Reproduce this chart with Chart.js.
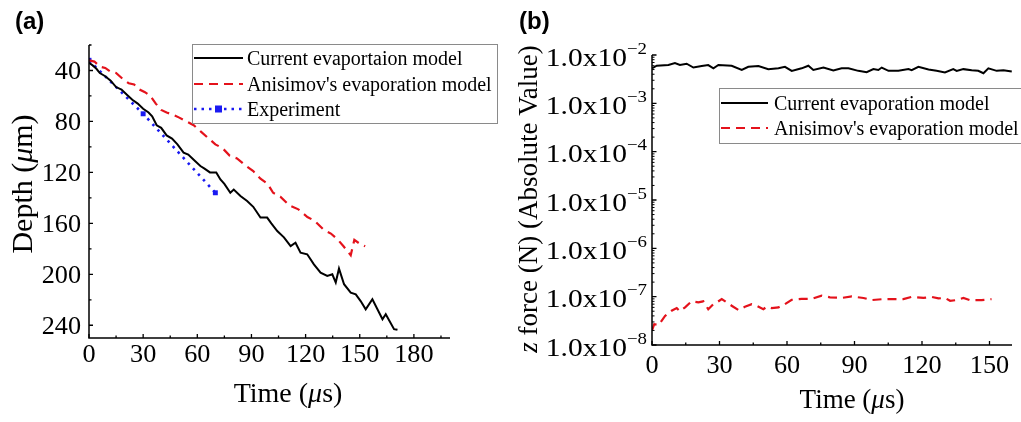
<!DOCTYPE html>
<html>
<head>
<meta charset="utf-8">
<script src="https://cdn.jsdelivr.net/npm/chart.js@4.4.1/dist/chart.umd.min.js"></script>
<style>
  html, body { margin: 0; padding: 0; background: #fff; }
  #wrap { position: relative; width: 1021px; height: 422px; overflow: hidden; }
  #wrap canvas { position: absolute; top: 0; }
</style>
</head>
<body>
<div id="wrap">
  <canvas id="depthChart" width="510" height="422" style="left:0"></canvas>
  <canvas id="forceChart" width="511" height="422" style="left:510px"></canvas>
</div>
<script>
// ---- (a) crater depth versus time ----
const depthCurTime = [0, 2, 4, 6, 9, 12, 15, 18, 21, 24, 27, 30, 33, 35, 37.5, 40, 43, 46, 49, 52.4, 55, 58, 61.7, 64, 67, 70.5, 72.8, 75, 78.3, 80.2, 83.9, 87.6, 91, 95, 98.7, 101, 104.3, 108, 111.7, 114.4, 117.2, 120.9, 124.6, 128.3, 132, 134.8, 136.7, 138.5, 141.3, 145, 147.8, 150.5, 153.3, 157, 162.6, 164.4, 169, 170.9];
const depthCur = [34, 36, 38.5, 42, 44.5, 48, 53, 55, 59, 63, 66, 70, 73, 76, 83, 85, 91, 93.5, 98, 104.5, 106, 110, 115, 117, 120, 120, 125.5, 129, 136, 133.5, 138.6, 142.5, 147, 155.5, 155.5, 160, 166, 171, 177.8, 175.2, 183, 184.3, 192.2, 198.7, 201.3, 200, 206.5, 195.5, 207.8, 214.4, 215.7, 221, 227.5, 219.6, 235.3, 231.4, 243.1, 243.6];
const depthAnisTime = [0, 3, 6, 9, 12, 15, 19, 22, 25, 28, 31, 34, 37, 40, 43, 47, 50, 54, 58, 62, 66, 70, 74, 78, 82, 87, 91, 95, 99, 102, 106, 111, 116, 121, 125, 130, 134, 138, 141, 145, 147, 150, 153];
const depthAnis = [32, 33, 37, 38, 41, 42, 47, 50, 51, 55, 57, 60, 66, 71, 73, 75, 77, 80, 83, 88, 93, 98, 101, 107, 109, 115, 119, 125, 129, 136, 139, 146, 149, 155, 158, 165, 168, 173, 178, 185, 173, 176, 178];
const expTime = [0, 30, 70];
const expDepth = [32, 74, 136];
const depthXTicks = [0, 30, 60, 90, 120, 150, 180];
const depthXMinor = [15, 45, 75, 105, 135, 165, 195];
const depthYTicks = [40, 80, 120, 160, 200, 240];
const depthYMinor = [20, 60, 100, 140, 180, 220];
const depthLegend = ['Current evaportaion model', "Anisimov's evaporation model", 'Experiment'];

// ---- (b) z force versus time ----
const forceCurTime = [0, 2.1, 7.3, 10.2, 12.4, 15.4, 18.4, 22.1, 25, 27.3, 29.5, 35.4, 39.9, 42.8, 47.3, 51.7, 56.2, 59.1, 62.1, 66.5, 69.5, 71.7, 76.2, 80.6, 84.3, 87.3, 91.7, 95.4, 98.4, 100.6, 102.1, 105.1, 109.5, 114, 115.4, 118.4, 122.9, 126.5, 130.2, 133.9, 135.4, 138.4, 142.1, 145, 147.3, 149.5, 153.2, 156.2, 159.9];
const forceCur = [5.3e-3, 6.0e-3, 6.2e-3, 6.8e-3, 6.2e-3, 6.6e-3, 5.5e-3, 5.9e-3, 6.2e-3, 5.3e-3, 6.2e-3, 6.0e-3, 4.9e-3, 5.7e-3, 5.9e-3, 5.1e-3, 5.3e-3, 5.7e-3, 4.7e-3, 5.3e-3, 6.0e-3, 4.9e-3, 5.5e-3, 4.8e-3, 5.3e-3, 5.3e-3, 4.7e-3, 4.4e-3, 5.1e-3, 4.9e-3, 5.5e-3, 4.7e-3, 4.7e-3, 5.1e-3, 4.85e-3, 5.7e-3, 5.0e-3, 4.7e-3, 4.35e-3, 5.1e-3, 4.7e-3, 5.1e-3, 4.85e-3, 4.7e-3, 4.2e-3, 5.3e-3, 4.7e-3, 4.85e-3, 4.55e-3];
const forceAnisTime = [0, 1, 3, 5.8, 8.7, 11, 12.4, 14.7, 17.6, 20.6, 22.8, 25, 27.3, 28.8, 31, 33.2, 35.4, 38.4, 41.3, 44.3, 46.5, 49.5, 51, 53.2, 56.2, 59.1, 62.1, 66.5, 71, 75.4, 79.1, 84.3, 88.8, 94, 97.6, 102.8, 106.5, 111.7, 115.4, 120.6, 124.3, 127.3, 130.2, 132.5, 135.4, 138.4, 141.3, 146.5, 150.9];
const forceAnis = [2.0e-8, 2.7e-8, 2.6e-8, 4.0e-8, 5.1e-8, 5.8e-8, 5.0e-8, 6.0e-8, 8.0e-8, 7.6e-8, 8.0e-8, 5.5e-8, 7.0e-8, 7.6e-8, 8.9e-8, 7.6e-8, 6.5e-8, 5.3e-8, 6.2e-8, 7.0e-8, 6.5e-8, 5.5e-8, 6.2e-8, 5.8e-8, 6.0e-8, 7.0e-8, 8.6e-8, 9.0e-8, 9.0e-8, 1.05e-7, 9.7e-8, 9.4e-8, 1.01e-7, 9.4e-8, 8.5e-8, 8.9e-8, 8.9e-8, 8.9e-8, 9.9e-8, 9.4e-8, 9.9e-8, 9.2e-8, 9.4e-8, 8.2e-8, 8.5e-8, 9.4e-8, 8.5e-8, 8.5e-8, 8.9e-8];
const forceXTicks = [0, 30, 60, 90, 120, 150];
const forceXMinor = [15, 45, 75, 105, 135];
const forceYExponents = [-2, -3, -4, -5, -6, -7, -8];
const forceLegend = ['Current evaporation model', "Anisimov's evaporation model"];

// ---- shared styling ----
const SERIF = '"Liberation Serif", "Times New Roman", serif';
const SANS = '"Liberation Sans", Arial, sans-serif';
const BLACK = '#000000';
const RED = '#e4121b';
const BLUE = '#1a1af2';

function pts(xs, ys) { return xs.map((x, i) => ({ x: x, y: ys[i] })); }

// draw a sequence of differently styled text runs as one label
function runs(ctx, parts, x, y, opt) {
  opt = opt || {};
  const sx = opt.sx || 1;
  ctx.save();
  ctx.translate(x, y);
  if (opt.rot) ctx.rotate(opt.rot);
  ctx.scale(sx, 1);
  ctx.fillStyle = '#000';
  ctx.textBaseline = 'alphabetic';
  ctx.textAlign = 'left';
  let total = 0;
  const widths = parts.map(p => { ctx.font = p[1]; const w = ctx.measureText(p[0]).width; total += w; return w; });
  let cx = opt.align === 'center' ? -total / 2 : opt.align === 'right' ? -total : 0;
  parts.forEach((p, i) => {
    ctx.font = p[1];
    ctx.fillText(p[0], cx, p[2] || 0);
    cx += widths[i];
  });
  ctx.restore();
}

function tickMarks(ctx, chart, axis, values, len) {
  const a = chart.chartArea;
  const s = chart.scales[axis];
  ctx.beginPath();
  values.forEach(v => {
    const p = s.getPixelForValue(v);
    if (axis === 'x') { ctx.moveTo(p, a.bottom); ctx.lineTo(p, a.bottom - len); }
    else { ctx.moveTo(a.left, p); ctx.lineTo(a.left + len, p); }
  });
  ctx.stroke();
}

function drawAxesFrame(ctx, chart) {
  const a = chart.chartArea;
  ctx.strokeStyle = '#000';
  ctx.lineWidth = 1.5;
  ctx.setLineDash([]);
  ctx.beginPath();
  ctx.moveTo(a.left, a.top);
  ctx.lineTo(a.left, a.bottom);
  ctx.lineTo(a.right, a.bottom);
  ctx.stroke();
}

function drawLegend(ctx, chart, box, labels, rowYs, sampleX0, sampleX1, textX, font) {
  ctx.save();
  ctx.fillStyle = '#fff';
  ctx.fillRect(box.x, box.y, box.w, box.h);
  ctx.strokeStyle = '#8a8a8a';
  ctx.lineWidth = 1;
  ctx.setLineDash([]);
  ctx.strokeRect(box.x + 0.5, box.y + 0.5, box.w, box.h);
  labels.forEach((lab, i) => {
    const ds = chart.data.datasets[i];
    const cy = rowYs[i];
    ctx.strokeStyle = ds.borderColor;
    ctx.lineWidth = ds.borderWidth;
    ctx.setLineDash(ds.borderDash || []);
    ctx.beginPath();
    ctx.moveTo(sampleX0, cy);
    ctx.lineTo(sampleX1, cy);
    ctx.stroke();
    if (ds.pointRadius > 0) {
      ctx.fillStyle = ds.pointBackgroundColor;
      const r = ds.pointRadius;
      const mx = (sampleX0 + sampleX1) / 2;
      ctx.fillRect(mx - r, cy - r, 2 * r, 2 * r);
    }
    ctx.setLineDash([]);
    runs(ctx, [[lab, font]], textX, cy + 7);
  });
  ctx.restore();
}

// ---------------- panel (a) ----------------
const depthText = {
  id: 'depthText',
  afterDatasetsDraw(chart) {
    const ctx = chart.ctx;
    const xs = chart.scales.x, ys = chart.scales.y;
    ctx.save();
    drawAxesFrame(ctx, chart);
    ctx.lineWidth = 1.3;
    tickMarks(ctx, chart, 'x', depthXTicks, 4);
    tickMarks(ctx, chart, 'x', depthXMinor, 2.5);
    tickMarks(ctx, chart, 'y', depthYTicks, 4);
    tickMarks(ctx, chart, 'y', depthYMinor, 2.5);

    const tickFont = '25px ' + SERIF;
    depthXTicks.forEach(v => runs(ctx, [[String(v), tickFont]], xs.getPixelForValue(v), 362, { align: 'center', sx: 1.05 }));
    depthYTicks.forEach(v => runs(ctx, [[String(v), tickFont]], 81, ys.getPixelForValue(v) + 8.5, { align: 'right', sx: 1.05 }));

    const tf = '28px ' + SERIF, tfi = 'italic 28px ' + SERIF;
    runs(ctx, [['Time (', tf], ['\u03bc', tfi], ['s)', tf]], 288, 402, { align: 'center' });
    const yf = '30px ' + SERIF, yfi = 'italic 30px ' + SERIF;
    runs(ctx, [['Depth (', yf], ['\u03bc', yfi], ['m)', yf]], 32, 184, { align: 'center', rot: -Math.PI / 2 });

    runs(ctx, [['(a)', 'bold 24px ' + SANS]], 15, 29);

    drawLegend(ctx, chart, { x: 192, y: 44, w: 305, h: 79 }, depthLegend, [58, 84, 109], 194, 243, 247, '20px ' + SERIF);
    ctx.restore();
  }
};

new Chart(document.getElementById('depthChart'), {
  type: 'line',
  data: {
    datasets: [
      { label: depthLegend[0], data: pts(depthCurTime, depthCur), borderColor: BLACK, borderWidth: 2, pointRadius: 0, tension: 0 },
      { label: depthLegend[1], data: pts(depthAnisTime, depthAnis), borderColor: RED, borderWidth: 2.2, borderDash: [9, 6], pointRadius: 0, tension: 0 },
      { label: depthLegend[2], data: pts(expTime, expDepth), borderColor: BLUE, borderWidth: 2.6, borderDash: [2.5, 5], pointStyle: 'rect', pointRadius: 3.5, pointBackgroundColor: BLUE, pointBorderColor: BLUE, pointBorderWidth: 0, tension: 0 }
    ]
  },
  options: {
    responsive: false,
    animation: false,
    devicePixelRatio: 1,
    layout: { padding: { left: 0, top: 45, right: 60, bottom: 0 } },
    plugins: { legend: { display: false }, tooltip: { enabled: false } },
    scales: {
      x: {
        type: 'linear', min: 0, max: 200,
        grid: { display: false }, border: { display: false },
        ticks: { display: false },
        afterBuildTicks: s => { s.ticks = depthXTicks.map(v => ({ value: v })); },
        afterFit: s => { s.height = 84; }
      },
      y: {
        type: 'linear', min: 20, max: 250, reverse: true,
        grid: { display: false }, border: { display: false },
        ticks: { display: false },
        afterBuildTicks: s => { s.ticks = depthYTicks.map(v => ({ value: v })); },
        afterFit: s => { s.width = 89; }
      }
    }
  },
  plugins: [depthText]
});

// ---------------- panel (b) ----------------
const forceMinor = [];
for (let e = -8; e < -2; e++) for (let k = 2; k <= 9; k++) forceMinor.push(k * Math.pow(10, e));

const forceText = {
  id: 'forceText',
  afterDatasetsDraw(chart) {
    const ctx = chart.ctx;
    const xs = chart.scales.x, ys = chart.scales.y;
    ctx.save();
    drawAxesFrame(ctx, chart);
    ctx.lineWidth = 1.3;
    tickMarks(ctx, chart, 'x', forceXTicks, 4);
    tickMarks(ctx, chart, 'x', forceXMinor, 2.5);
    tickMarks(ctx, chart, 'y', forceYExponents.map(e => Math.pow(10, e)), 4.5);
    ctx.lineWidth = 1;
    tickMarks(ctx, chart, 'y', forceMinor, 2.5);

    const tickFont = '25px ' + SERIF, expFont = '16px ' + SERIF;
    forceXTicks.forEach(v => runs(ctx, [[String(v), tickFont]], xs.getPixelForValue(v), 373, { align: 'center', sx: 1.05 }));
    forceYExponents.forEach(e => {
      const y = ys.getPixelForValue(Math.pow(10, e)) + 10.5;
      runs(ctx, [['1.0x10', tickFont], ['\u2212' + Math.abs(e), expFont, -12]], 137, y, { align: 'right', sx: 1.18 });
    });

    const tf = '27px ' + SERIF, tfi = 'italic 27px ' + SERIF;
    runs(ctx, [['Time (', tf], ['\u03bc', tfi], ['s)', tf]], 342, 408, { align: 'center' });
    runs(ctx, [['z', tfi], [' force (N) (Absolute Value)', tf]], 27, 199, { align: 'center', rot: -Math.PI / 2 });

    runs(ctx, [['(b)', 'bold 24px ' + SANS]], 9, 29);

    drawLegend(ctx, chart, { x: 209, y: 88, w: 310, h: 55 }, forceLegend, [103, 128], 211, 258, 264, '20px ' + SERIF);
    ctx.restore();
  }
};

new Chart(document.getElementById('forceChart'), {
  type: 'line',
  data: {
    datasets: [
      { label: forceLegend[0], data: pts(forceCurTime, forceCur), borderColor: BLACK, borderWidth: 2, pointRadius: 0, tension: 0 },
      { label: forceLegend[1], data: pts(forceAnisTime, forceAnis), borderColor: RED, borderWidth: 2.2, borderDash: [9, 6], pointRadius: 0, tension: 0 }
    ]
  },
  options: {
    responsive: false,
    animation: false,
    devicePixelRatio: 1,
    layout: { padding: { left: 0, top: 55, right: 9, bottom: 0 } },
    plugins: { legend: { display: false }, tooltip: { enabled: false } },
    scales: {
      x: {
        type: 'linear', min: 0, max: 160,
        grid: { display: false }, border: { display: false },
        ticks: { display: false },
        afterBuildTicks: s => { s.ticks = forceXTicks.map(v => ({ value: v })); },
        afterFit: s => { s.height = 77; }
      },
      y: {
        type: 'logarithmic', min: 1e-8, max: 1e-2,
        grid: { display: false }, border: { display: false },
        ticks: { display: false },
        afterBuildTicks: s => { s.ticks = forceYExponents.map(e => ({ value: Math.pow(10, e) })); },
        afterFit: s => { s.width = 142; }
      }
    }
  },
  plugins: [forceText]
});
</script>
</body>
</html>
